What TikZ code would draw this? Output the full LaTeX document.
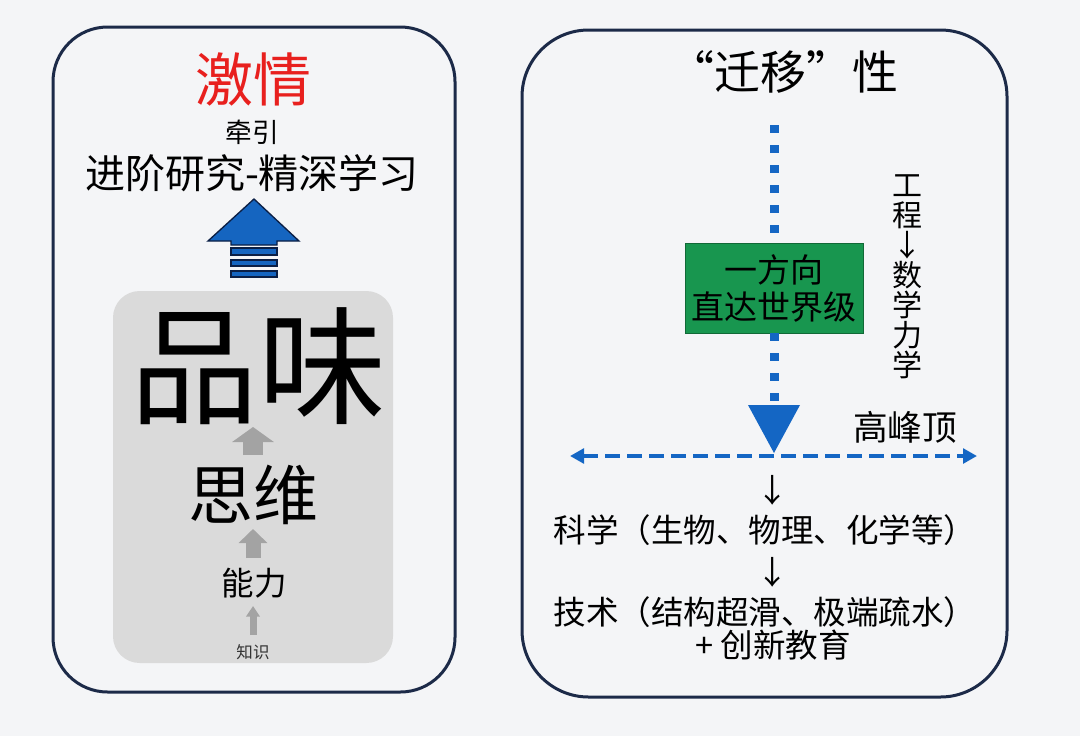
\documentclass[tikz,border=0pt]{standalone}
\usepackage{fontspec}
\setmainfont{Noto Sans CJK SC}
\newfontfamily\fwfont[RawFeature=+fwid]{Noto Sans CJK SC}
\usetikzlibrary{arrows.meta}
\definecolor{bgc}{HTML}{F4F5F7}
\definecolor{frame}{HTML}{1C2A48}
\definecolor{passion}{HTML}{E8201E}
\definecolor{bluefill}{HTML}{1565C0}
\definecolor{blueedge}{HTML}{0B1F45}
\definecolor{boxgray}{HTML}{DADADA}
\definecolor{arrgray}{HTML}{A3A3A3}
\definecolor{dotblue}{HTML}{1466C4}
\definecolor{greenbox}{HTML}{18964F}
\newcommand\myfs[2]{\fontsize{#1pt}{#2pt}\selectfont}
\tikzset{
  panel/.style={draw=frame, line width=2.25pt, fill=bgc},
  txt/.style={inner sep=0pt, text=black},
  garrow/.style n args={3}{draw=arrgray, line width=#1, -{Triangle[length=#3,width=#2]}, arrgray},
  dotline/.style={draw=dotblue, line width=6.75pt, dash pattern=on 6pt off 9pt},
  hdash/.style={draw=dotblue, line width=3pt, dash pattern=on 11.25pt off 5.25pt},
}
\begin{document}
\begin{tikzpicture}[x=0.75pt,y=-0.75pt]
\fill[bgc] (0,0) rectangle (1080,736);
\useasboundingbox (0,0) rectangle (1080,736);

% ---------- left panel ----------
\draw[panel, rounded corners=41pt] (53,27) rectangle (455,692);
\node[txt, text=passion, font=\myfs{43.5}{50}] (jq) at (253,79) {激情};
\node[txt, font=\myfs{20}{24}] (qy) at (252,132) {牵引};
\node[txt, font=\myfs{30}{34}] (jj) at (252,173) {进阶研究-精深学习};

% blue block arrow
\filldraw[fill=bluefill, draw=blueedge, line width=1pt, line join=miter]
  (208,241) -- (254,199) -- (299,241) -- (277,241) -- (277,245) -- (231,245) -- (231,241) -- cycle;
\filldraw[fill=bluefill, draw=blueedge, line width=1pt] (231,248) rectangle (277,255);
\filldraw[fill=bluefill, draw=blueedge, line width=1pt] (231,260) rectangle (277,266);
\filldraw[fill=bluefill, draw=blueedge, line width=1pt] (231,271) rectangle (277,277);

% gray box
\fill[boxgray, rounded corners=20pt] (113,291) rectangle (393,663);
\node[txt, font=\myfs{96}{100}] (pw) at (258,366) {品味};
\node[txt, font=\myfs{48.75}{55}] (sw) at (253,495) {思维};
\node[txt, font=\myfs{24.4}{28}] (nl) at (254,583) {能力};
\node[txt, font=\myfs{12.4}{15}, text=black!80] (zs) at (253,652) {知识};

\coordinate (a1s) at (253,455); \coordinate (a1e) at (253,427);
\coordinate (a2s) at (253,558); \coordinate (a2e) at (253,529);
\coordinate (a3s) at (253,635); \coordinate (a3e) at (253,606);
\draw[garrow={15pt}{30.75pt}{11.25pt}] (a1s) -- (a1e);
\draw[garrow={11.25pt}{21pt}{10.5pt}] (a2s) -- (a2e);
\draw[garrow={5.25pt}{10pt}{8pt}] (a3s) -- (a3e);

% ---------- right panel ----------
\draw[panel, rounded corners=50pt] (522,30) rectangle (1007,697);
\node[txt, font=\myfs{34.5}{40}\fwfont] (tr) at (783,72) {“迁移”性};

\coordinate (vtop) at (774,125);
\node[draw=greenbox!70!black, line width=0.6pt, fill=greenbox, minimum width=133.5pt, minimum height=67.5pt,
      align=center, inner sep=0pt, font=\myfs{24.75}{27.75}] (gb) at (774,288) {一方向\\直达世界级};
\coordinate (tribase) at (774,405);
\coordinate (tritip) at (774,453);
\draw[dotline] (vtop) -- (gb.north);
\draw[dotline] (gb.south) -- (tribase);
\fill[dotblue] (tribase) ++(-26,0) -- ++(52,0) -- (tritip) -- cycle;

\node[txt, font=\myfs{22.5}{22.5}, align=center] (vt) at (907,277) {工\\程\\↓\\数\\学\\力\\学};
\node[txt, font=\myfs{26}{30}] (gfd) at (905,427) {高峰顶};

\coordinate (hl) at (570,456);
\coordinate (hr) at (977,456);
\draw[hdash, {Triangle[length=10.5pt,width=11pt]}-{Triangle[length=10.5pt,width=11pt]}] (hl) -- (hr);

\node[txt, font=\myfs{24.2}{28}] (d1) at (773,490) {↓};
\node[txt, font=\myfs{24.4}{28}] (kx) at (765,530) {科学（生物、物理、化学等）};
\node[txt, font=\myfs{24.2}{28}] (d2) at (773,572) {↓};
\node[txt, font=\myfs{24.4}{28}] (js) at (765,612) {技术（结构超滑、极端疏水）};
\node[txt, font=\myfs{24.4}{28}] (cx) at (773,645) {+ 创新教育};
\end{tikzpicture}
\end{document}
